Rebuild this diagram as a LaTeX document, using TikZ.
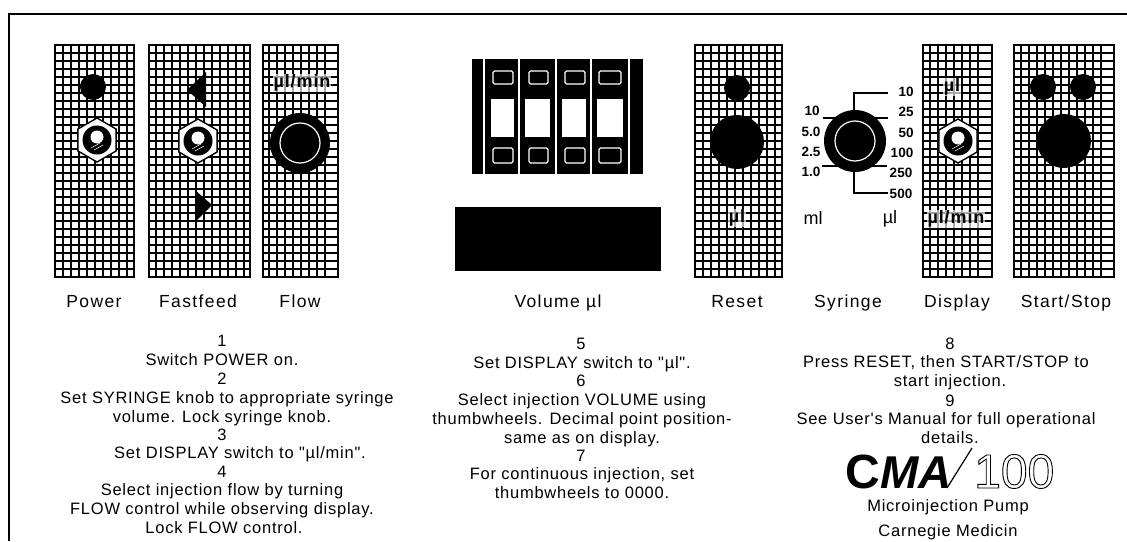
\documentclass[tikz,border=0pt]{standalone}
\usepackage{fontspec}
\setmainfont{Liberation Sans}
\newfontfamily\spacedf[LetterSpace=4.6]{Liberation Sans}
\newfontfamily\capf[LetterSpace=8]{Liberation Sans}
\newfontfamily\unitf[LetterSpace=5]{Liberation Sans}
\newcommand{\bodyfs}{\spacedf\fontsize{16.5}{18}\selectfont}
\newcommand{\capfs}{\capf\fontsize{17.5}{20}\selectfont}
\newcommand{\smallfs}{\unitf\fontsize{18}{19}\selectfont\bfseries}
\newcommand{\outlinetxt}[1]{\special{pdf:code q 1 Tr 0.9 w}#1\special{pdf:code Q}}
\tikzset{
  x=1pt,y=-1pt,
  bodytxt/.style={font=\bodyfs,inner sep=0pt,anchor=base,align=center},
  captxt/.style={font=\capfs,inner sep=0pt,anchor=base,align=center},
  smalltxt/.style={font=\smallfs,inner sep=0.5pt,anchor=center,fill=white,fill opacity=0.65,text opacity=1},
  scalelab/.style={font=\fontsize{13.5}{15}\selectfont\bfseries,inner sep=0pt,anchor=center},
  unitlab/.style={font=\fontsize{18}{20}\selectfont,inner sep=0pt},
  lead/.style={line width=1.3pt},
  gridline/.style={line width=2.7pt,black},
  whiteline/.style={draw=white,line width=1.2pt},
}
% \gridpanel{x0}{first inner line}{inner lines minus one}{x1}
\newcommand{\gridpanel}[4]{%
  \draw[gridline] (#1,44) -- (#1,278) (#4,44) -- (#4,278);
  \foreach \ci in {0,...,#3}{\draw[gridline] ({#2+\ci*8},44) -- ({#2+\ci*8},278);}
  \foreach \ri in {0,...,29}{\draw[gridline] (#1,{45+\ri*8}) -- (#4,{45+\ri*8});}
}
\newcommand{\togglenut}[2]{%
  \draw[fill=white,line width=1.4pt] (#1,#2) ++(90:22) -- ++(-30:22) -- ++(-90:22) -- ++(-150:22) -- ++(150:22) -- ++(90:22) -- cycle;
  \fill (#1,#2) circle (14.5);
  \fill[white] (#1,#2-3) circle (6.5);
  \draw[white,line width=.5pt] (#1-6,#2+8) -- (#1+3,#2+3) (#1-3,#2+10) -- (#1+6,#2+5);
}
\newcommand{\knob}[4]{% x y R r
  \fill (#1,#2) circle (#3);
  \draw[whiteline] (#1,#2) circle (#4);
}
\begin{document}
\begin{tikzpicture}
\useasboundingbox (0,0) rectangle (1127,541);
\fill[white] (0,0) rectangle (1127,541);
% frame
\draw[line width=2pt] (9,541) -- (9,14) -- (1127,14);
% panels
\gridpanel{55}{63}{8}{134}
\gridpanel{149}{156}{11}{250}
\gridpanel{263}{269}{7}{338}
\gridpanel{695}{703}{9}{782}
\gridpanel{923}{930}{6}{992}
\gridpanel{1014}{1021}{10}{1114}
% Power
\fill (93,87) circle (13);
\togglenut{97}{140}
% Fastfeed
\fill (187,90) -- (206,72) -- (206,107) -- cycle;
\fill (212,205) -- (195,190) -- (195,222) -- cycle;
\togglenut{198}{141}
% Flow
\node[smalltxt] (flowunit) at (302,83) {µl/min};
\knob{300}{143}{30}{20}
% Thumbwheels
\fill (472,59) rectangle (643,174);
\foreach \lx in {484,519,556,591,629}{\draw[whiteline] (\lx,59) -- (\lx,174);}
\foreach \wa/\wb in {491/514,525/550,562/586,597/623}{\fill[white] (\wa,99) rectangle (\wb,137);}
\foreach \wa/\wb in {493/513,529/548,565/585,599/621}{
  \draw[whiteline,rounded corners=1.5pt] (\wa,71) rectangle (\wb,84);
  \draw[whiteline,rounded corners=1.5pt] (\wa,148) rectangle (\wb,163);}
% Display
\fill (455,207) rectangle (661,271);
% Reset
\fill (737,88) circle (13);
\fill (737,142) circle (27);
\node[smalltxt] (resetunit) at (737,218) {µl};
% Syringe
\knob{855}{141}{31}{20}
\coordinate (st) at (854,115);
\coordinate (sb) at (854,168);
\draw[lead] (st) -- (854,93) -- (888,93);
\draw[lead] (823,118) -- (838,118) (872,118) -- (888,118);
\draw[lead] (822,166) -- (838,166) (872,166) -- (887,166);
\draw[lead] (sb) -- (854,193) -- (888,193);
\node[scalelab] (lA) at (812,111) {10};
\node[scalelab] (lB) at (811,132) {5.0};
\node[scalelab] (lC) at (811,152) {2.5};
\node[scalelab] (lD) at (811,172) {1.0};
\node[scalelab] (rA) at (906,92) {10};
\node[scalelab] (rB) at (906,112) {25};
\node[scalelab] (rC) at (906,133) {50};
\node[scalelab] (rD) at (902,153) {100};
\node[scalelab] (rE) at (901,173) {250};
\node[scalelab] (rF) at (901,194) {500};
\node[unitlab] (ml) at (813,218) {ml};
\node[unitlab] (ul) at (890,219) {µl};
% Display panel
\node[smalltxt] (dispA) at (952,87) {µl};
\togglenut{958}{141}
\node[smalltxt] (dispB) at (956,219) {µl/min};
% Start/Stop
\fill (1043,87) circle (13);
\fill (1083,87) circle (13);
\fill (1064,141) circle (27);
% captions
\node[captxt] (capa) at (94,307) {Power};
\node[captxt] (capb) at (198,307) {Fastfeed};
\node[captxt] (capc) at (300,307) {Flow};
\node[captxt] (capd) at (558,307) {Volume µl};
\node[captxt] (cape) at (737,307) {Reset};
\node[captxt] (capf) at (848,307) {Syringe};
\node[captxt] (capg) at (957,307) {Display};
\node[captxt] (caph) at (1066,307) {Start/Stop};
% instructions col 1
\node[bodytxt] (a1) at (222,346) {1};
\node[bodytxt] (a2) at (222,365) {Switch POWER on.};
\node[bodytxt] (a3) at (222,384) {2};
\node[bodytxt] (a4) at (227,403) {Set SYRINGE knob to appropriate syringe};
\node[bodytxt] (a5) at (222,422) {volume. Lock syringe knob.};
\node[bodytxt] (a6) at (222,440) {3};
\node[bodytxt] (a7) at (240,458) {Set DISPLAY switch to "µl/min".};
\node[bodytxt] (a8) at (222,477) {4};
\node[bodytxt] (a9) at (222,495) {Select injection flow by turning};
\node[bodytxt] (a10) at (222,514) {FLOW control while observing display.};
\node[bodytxt] (a11) at (224,533) {Lock FLOW control.};
% col 2
\node[bodytxt] (b1) at (581,349) {5};
\node[bodytxt] (b2) at (582,368) {Set DISPLAY switch to "µl".};
\node[bodytxt] (b3) at (581,386) {6};
\node[bodytxt] (b4) at (582,405) {Select injection VOLUME using};
\node[bodytxt] (b5) at (582,424) {thumbwheels. Decimal point position-};
\node[bodytxt] (b6) at (582,443) {same as on display.};
\node[bodytxt] (b7) at (581,461) {7};
\node[bodytxt] (b8) at (582,479) {For continuous injection, set};
\node[bodytxt] (b9) at (582,498) {thumbwheels to 0000.};
% col 3
\node[bodytxt] (c1) at (950,349) {8};
\node[bodytxt] (c2) at (946,367) {Press RESET, then START/STOP to};
\node[bodytxt] (c3) at (950,386) {start injection.};
\node[bodytxt] (c4) at (950,406) {9};
\node[bodytxt] (c5) at (946,424) {See User's Manual for full operational};
\node[bodytxt] (c6) at (950,443) {details.};
% logo
\node[font=\fontsize{48}{50}\selectfont\bfseries,inner sep=0pt,anchor=base west] (cmac) at (845,488) {C};
\node[font=\fontsize{46}{50}\selectfont\bfseries\itshape,inner sep=0pt,anchor=base west] (cma) at (881,488) {\kern-1pt MA};
\draw[line width=1.2pt] (947,488) -- (972,448);
\node[font=\fontsize{48}{50}\selectfont,inner sep=0pt,anchor=base west] (hundred) at (974,488) {\outlinetxt{100}};
\node[bodytxt] (d1) at (948,511) {Microinjection Pump};
\node[bodytxt] (d2) at (948,536) {Carnegie Medicin};
\end{tikzpicture}
\end{document}
